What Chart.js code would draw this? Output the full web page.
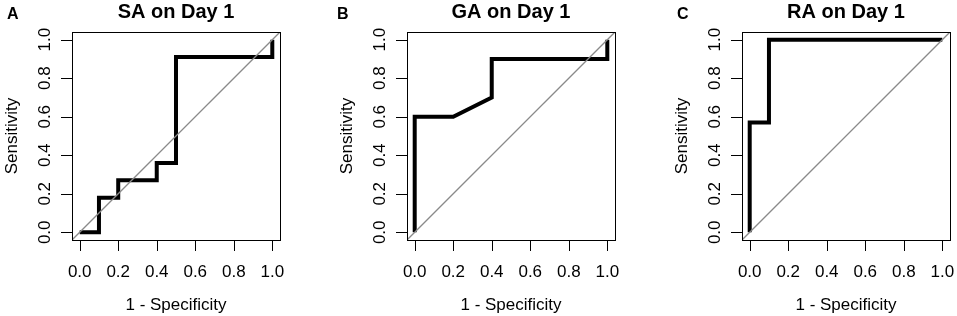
<!DOCTYPE html>
<html>
<head>
<meta charset="utf-8">
<script src="https://cdn.jsdelivr.net/npm/chart.js@4.4.1/dist/chart.umd.min.js"></script>
<style>
  body { margin: 0; background: #fff; }
  #wrap { position: relative; width: 957px; height: 316px; overflow: hidden; }
  #wrap canvas { position: absolute; top: 0; }
  .tag { position: absolute; top: 6px; font: bold 16px "Liberation Sans", Arial, sans-serif; line-height: 1; color: #000; }
</style>
</head>
<body>
<div id="wrap">
  <canvas id="cA" width="287" height="316" style="left:0px"></canvas>
  <canvas id="cB" width="287" height="316" style="left:335px"></canvas>
  <canvas id="cC" width="287" height="316" style="left:670px"></canvas>
  <div class="tag" style="left:7px">A</div>
  <div class="tag" style="left:337px">B</div>
  <div class="tag" style="left:677px">C</div>
</div>
<script>
// ROC curves: 1 - specificity (x) vs sensitivity (y)
const saX = [0, 0.1, 0.1, 0.2, 0.2, 0.4, 0.4, 0.5, 0.5, 1.0, 1.0];
const saY = [0, 0, 0.18, 0.18, 0.27, 0.27, 0.36, 0.36, 0.91, 0.91, 1.0];

const gaX = [0, 0, 0.2, 0.4, 0.4, 1.0, 1.0];
const gaY = [0, 0.6, 0.6, 0.7, 0.9, 0.9, 1.0];

const raX = [0, 0, 0.1, 0.1, 1.0];
const raY = [0, 0.57, 0.57, 1.0, 1.0];

// chance line spans the whole plot region (R pads the axes by 4%)
const diagX = [-0.04, 1.04];
const diagY = [-0.04, 1.04];

const xTicks = [0, 0.2, 0.4, 0.6, 0.8, 1.0];
const yTicks = [0, 0.2, 0.4, 0.6, 0.8, 1.0];

const titles = ['SA on Day 1', 'GA on Day 1', 'RA on Day 1'];
const xTitle = '1 - Specificity';
const yTitle = 'Sensitivity';

const FONT = '"Liberation Sans", Arial, sans-serif';

function pts(xs, ys) {
    return xs.map((x, i) => ({ x: x, y: ys[i] }));
}

// base-R style box, ticks and labels
const rAxes = {
    id: 'rAxes',
    afterDraw(chart) {
        const ctx = chart.ctx;
        const a = chart.chartArea;
        const x = chart.scales.x;
        const y = chart.scales.y;
        ctx.save();
        ctx.strokeStyle = '#000';
        ctx.lineWidth = 1;
        ctx.strokeRect(a.left + 0.5, a.top + 0.5, a.right - a.left, a.bottom - a.top);

        ctx.beginPath();
        xTicks.forEach(v => {
            const px = Math.round(x.getPixelForValue(v)) + 0.5;
            ctx.moveTo(px, a.bottom);
            ctx.lineTo(px, a.bottom + 11);
        });
        yTicks.forEach(v => {
            const py = Math.round(y.getPixelForValue(v)) + 0.5;
            ctx.moveTo(a.left, py);
            ctx.lineTo(a.left - 11, py);
        });
        ctx.stroke();

        ctx.fillStyle = '#000';
        ctx.font = '17px ' + FONT;
        ctx.textAlign = 'center';
        ctx.textBaseline = 'alphabetic';
        xTicks.forEach(v => {
            ctx.fillText(v.toFixed(1), x.getPixelForValue(v), a.bottom + 37);
        });
        yTicks.forEach(v => {
            ctx.save();
            ctx.translate(a.left - 22, y.getPixelForValue(v));
            ctx.rotate(-Math.PI / 2);
            ctx.fillText(v.toFixed(1), 0, 0);
            ctx.restore();
        });

        ctx.fillText(xTitle, (a.left + a.right) / 2, a.bottom + 70);
        ctx.save();
        ctx.translate(a.left - 55, (a.top + a.bottom) / 2);
        ctx.rotate(-Math.PI / 2);
        ctx.fillText(yTitle, 0, 0);
        ctx.restore();
        ctx.restore();
    }
};

function makePanel(id, title, xs, ys) {
    new Chart(document.getElementById(id), {
        type: 'line',
        data: {
            datasets: [
                {
                    data: pts(diagX, diagY),
                    borderColor: '#8a8a8a',
                    borderWidth: 1.3,
                    pointRadius: 0,
                    fill: false
                },
                {
                    data: pts(xs, ys),
                    borderColor: '#000000',
                    borderWidth: 4,
                    pointRadius: 0,
                    tension: 0,
                    fill: false
                }
            ]
        },
        options: {
            responsive: false,
            animation: false,
            devicePixelRatio: 1,
            events: [],
            layout: { padding: { left: 72, right: 7, top: 0, bottom: 76 } },
            plugins: {
                legend: { display: false },
                tooltip: { enabled: false },
                title: {
                    display: true,
                    text: title,
                    color: '#000',
                    font: { family: FONT, size: 20, weight: 'bold' },
                    padding: { top: 0, bottom: 8 }
                }
            },
            scales: {
                x: { type: 'linear', min: -0.04, max: 1.04, display: false },
                y: { type: 'linear', min: -0.04, max: 1.04, display: false }
            }
        },
        plugins: [rAxes]
    });
}

makePanel('cA', titles[0], saX, saY);
makePanel('cB', titles[1], gaX, gaY);
makePanel('cC', titles[2], raX, raY);
</script>
</body>
</html>
